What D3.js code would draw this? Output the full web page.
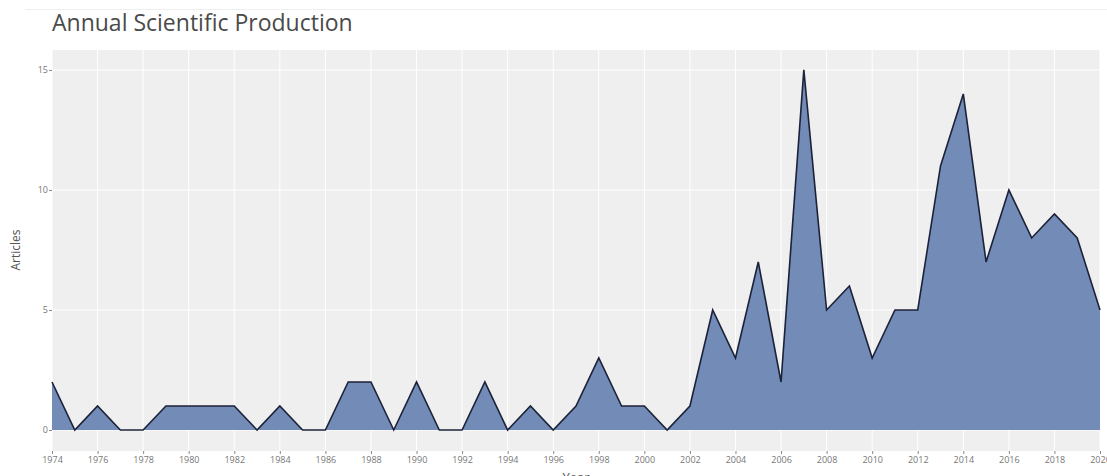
<!DOCTYPE html>
<html>
<head>
<meta charset="utf-8">
<script src="https://cdn.jsdelivr.net/npm/d3@7"></script>
<style>
  body { margin: 0; background: #fff; }
  svg { display: block; }
</style>
</head>
<body>
<svg id="chart"></svg>
<script>
//--data
let years = [1974, 1975, 1976, 1977, 1978, 1979, 1980, 1981, 1982, 1983, 1984, 1985, 1986, 1987, 1988, 1989,
             1990, 1991, 1992, 1993, 1994, 1995, 1996, 1997, 1998, 1999, 2000, 2001, 2002, 2003, 2004, 2005,
             2006, 2007, 2008, 2009, 2010, 2011, 2012, 2013, 2014, 2015, 2016, 2017, 2018, 2019, 2020];
let articles = [2, 0, 1, 0, 0, 1, 1, 1, 1, 0, 1, 0, 0, 2, 2, 0,
                2, 0, 0, 2, 0, 1, 0, 1, 3, 1, 1, 0, 1, 5, 3, 7,
                2, 15, 5, 6, 3, 5, 5, 11, 14, 7, 10, 8, 9, 8, 5];
let xTicks = d3.range(1974, 2021, 2);
let yTicks = [0, 5, 10, 15];
//--

let width = 1107;
let height = 476;
let margin = {top: 50, right: 7, bottom: 25, left: 52};

let svg = d3.select("#chart")
            .attr("width", width)
            .attr("height", height);

let xScale = d3.scaleLinear()
               .domain([1974, 2020])
               .range([margin.left, width - margin.right]);

let yScale = d3.scaleLinear()
               .domain([-0.875, 15.83])
               .range([height - margin.bottom, margin.top]);

// faint top rule
svg.append("line")
   .attr("x1", 25).attr("x2", width)
   .attr("y1", 9.5).attr("y2", 9.5)
   .attr("stroke", "#eeeeee");

// panel
svg.append("rect")
   .attr("x", margin.left)
   .attr("y", margin.top)
   .attr("width", width - margin.right - margin.left)
   .attr("height", height - margin.bottom - margin.top)
   .attr("fill", "#efefef");

// grid
svg.append("g")
   .selectAll("line")
   .data(xTicks)
   .enter()
   .append("line")
   .attr("x1", d => xScale(d)).attr("x2", d => xScale(d))
   .attr("y1", margin.top).attr("y2", height - margin.bottom)
   .attr("stroke", "#ffffff")
   .attr("stroke-width", 1);

svg.append("g")
   .selectAll("line")
   .data(yTicks)
   .enter()
   .append("line")
   .attr("x1", margin.left).attr("x2", width - margin.right)
   .attr("y1", d => yScale(d)).attr("y2", d => yScale(d))
   .attr("stroke", "#ffffff")
   .attr("stroke-width", 1);

let points = years.map((y, i) => ({year: y, value: articles[i]}));

let area = d3.area()
             .x(d => xScale(d.year))
             .y0(yScale(0))
             .y1(d => yScale(d.value));

let line = d3.line()
             .x(d => xScale(d.year))
             .y(d => yScale(d.value));

svg.append("path")
   .datum(points)
   .attr("d", area)
   .attr("fill", "#728bb7");

svg.append("path")
   .datum(points)
   .attr("d", line)
   .attr("fill", "none")
   .attr("stroke", "#1c2238")
   .attr("stroke-width", 1.6)
   .attr("stroke-linejoin", "miter");

// axes
let xAxis = d3.axisBottom(xScale)
              .tickValues(xTicks)
              .tickFormat(d3.format("d"))
              .tickSize(3)
              .tickPadding(3);

let yAxis = d3.axisLeft(yScale)
              .tickValues(yTicks)
              .tickSize(3)
              .tickPadding(1);

let gx = svg.append("g")
            .attr("transform", "translate(0," + (height - margin.bottom) + ")")
            .call(xAxis);

let gy = svg.append("g")
            .attr("transform", "translate(" + margin.left + ",0)")
            .call(yAxis);

[gx, gy].forEach(g => {
    g.select(".domain").remove();
    g.selectAll(".tick line").attr("stroke", "#888");
    g.selectAll(".tick text")
     .attr("fill", "#777")
     .attr("font-family", "Open Sans, sans-serif")
     .attr("font-size", 9);
});

// title and axis labels
svg.append("text")
   .attr("x", margin.left)
   .attr("y", 31)
   .attr("font-family", "Open Sans, sans-serif")
   .attr("font-size", 23)
   .attr("fill", "#4a4a4a")
   .text("Annual Scientific Production");

svg.append("text")
   .attr("transform", "translate(20," + yScale(7.5) + ") rotate(-90)")
   .attr("text-anchor", "middle")
   .attr("font-family", "Open Sans, sans-serif")
   .attr("font-size", 12)
   .attr("fill", "#555")
   .text("Articles");

svg.append("text")
   .attr("x", (margin.left + width - margin.right) / 2)
   .attr("y", 482)
   .attr("text-anchor", "middle")
   .attr("font-family", "Open Sans, sans-serif")
   .attr("font-size", 13)
   .attr("fill", "#555")
   .text("Year");
</script>
</body>
</html>
